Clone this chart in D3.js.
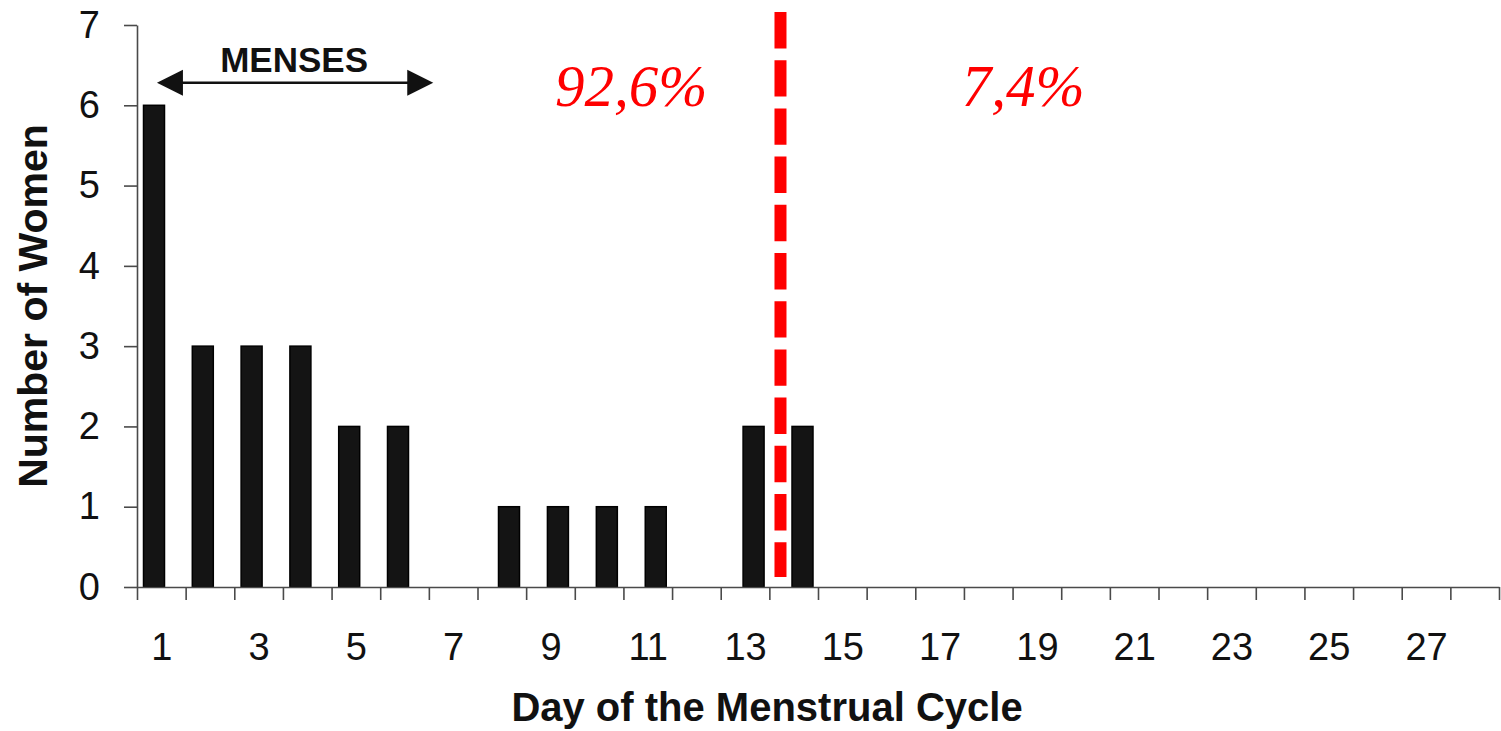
<!DOCTYPE html>
<html>
<head>
<meta charset="utf-8">
<script src="https://cdn.jsdelivr.net/npm/d3@7"></script>
<style>
  html, body { margin: 0; padding: 0; background: #fff; }
  svg { display: block; }
</style>
</head>
<body>
<svg id="chart" width="1501" height="731"></svg>
<script>
// ---- data ----
const days = d3.range(1, 29);                 // 1..28
const womenCount = [6, 3, 3, 3, 2, 2, 0, 1, 1, 1, 1, 0, 2, 2,
                    0, 0, 0, 0, 0, 0, 0, 0, 0, 0, 0, 0, 0, 0];
const xTickLabels = [1, 3, 5, 7, 9, 11, 13, 15, 17, 19, 21, 23, 25, 27];
const yTicks = [0, 1, 2, 3, 4, 5, 6, 7];
const shareLabels = ["92,6%", "7,4%"];
const mensesLabel = "MENSES";
const xTitle = "Day of the Menstrual Cycle";
const yTitle = "Number of Women";
const dividerDay = 13.55;

// ---- layout ----
(function () {
const svg = d3.select("#chart");
const plotL = 137, plotR = 1499, plotT = 25, plotB = 587;

const x = d3.scaleLinear().domain([0.5, 28.5]).range([plotL, plotR]);  // axis (day bands)
// bar centres as placed in the original figure (slightly off the tick grid)
const xBar = d3.scaleLinear().domain([1, 6, 8, 14]).range([154, 398, 509, 802.5]);
const y = d3.scaleLinear().domain([0, 7]).range([plotB, plotT]);
const barW = 21;

// bars
svg.append("g").selectAll("rect")
  .data(days.map((d, i) => ({day: d, v: womenCount[i]})).filter(d => d.v > 0))
  .join("rect")
  .attr("x", d => xBar(d.day) - barW / 2)
  .attr("y", d => y(d.v))
  .attr("width", barW)
  .attr("height", d => y(0) - y(d.v))
  .attr("fill", "#141414")
  .attr("stroke", "#000")
  .attr("stroke-width", 1.5);

// y axis
const yAxis = svg.append("g")
  .attr("transform", `translate(${plotL},0)`)
  .call(d3.axisLeft(y).tickValues(yTicks).tickFormat(d3.format("d"))
        .tickSize(13).tickSizeOuter(0).tickPadding(24));
yAxis.selectAll("text")
  .attr("font-family", "'Liberation Sans', Arial, sans-serif")
  .attr("font-size", 38).attr("fill", "#111");

// x axis: boundary ticks
const boundaries = d3.range(0.5, 29, 1);
svg.append("g")
  .attr("transform", `translate(0,${plotB})`)
  .call(d3.axisBottom(x).tickValues(boundaries).tickFormat("")
        .tickSize(13).tickSizeOuter(0));
// x axis labels (centred in day bands)
const xLab = svg.append("g")
  .attr("transform", `translate(0,${plotB})`)
  .call(d3.axisBottom(x).tickValues(xTickLabels).tickFormat(d3.format("d"))
        .tickSize(0).tickPadding(46));
xLab.select(".domain").remove();
xLab.selectAll("text")
  .attr("font-family", "'Liberation Sans', Arial, sans-serif")
  .attr("font-size", 38).attr("fill", "#111");

svg.selectAll(".domain, .tick line")
  .attr("stroke", "#4a4a4a").attr("stroke-width", 1.6);

// axis titles
svg.append("text")
  .attr("x", 767).attr("y", 721)
  .attr("text-anchor", "middle")
  .attr("font-family", "'Liberation Sans', Arial, sans-serif")
  .attr("font-weight", "bold").attr("font-size", 40).attr("fill", "#111")
  .text(xTitle);

svg.append("text")
  .attr("transform", `translate(47,${(y(0) + y(7)) / 2}) rotate(-90)`)
  .attr("text-anchor", "middle")
  .attr("font-family", "'Liberation Sans', Arial, sans-serif")
  .attr("font-weight", "bold").attr("font-size", 41).attr("fill", "#111")
  .text(yTitle);

// MENSES arrow
const arrowY = y(6.28);
const aL = x(0.91), aR = x(6.59);
svg.append("line")
  .attr("x1", aL + 10).attr("x2", aR - 10)
  .attr("y1", arrowY).attr("y2", arrowY)
  .attr("stroke", "#111").attr("stroke-width", 2.5);
svg.append("path")
  .attr("d", `M${aL},${arrowY} L${aL + 26},${arrowY - 13} L${aL + 26},${arrowY + 13} Z`)
  .attr("fill", "#111");
svg.append("path")
  .attr("d", `M${aR},${arrowY} L${aR - 26},${arrowY - 13} L${aR - 26},${arrowY + 13} Z`)
  .attr("fill", "#111");
svg.append("text")
  .attr("x", (aL + aR) / 2 - 1).attr("y", 72)
  .attr("text-anchor", "middle")
  .attr("font-family", "'Liberation Sans', Arial, sans-serif")
  .attr("font-weight", "bold").attr("font-size", 35).attr("fill", "#111")
  .text(mensesLabel);

// red dashed divider
svg.append("line")
  .attr("x1", xBar(dividerDay)).attr("x2", xBar(dividerDay))
  .attr("y1", 12).attr("y2", 577)
  .attr("stroke", "#ff0000").attr("stroke-width", 12)
  .attr("stroke-dasharray", "36.4,11.8");

// percentage annotations
const shareX = [x(10.66), x(18.72)];
svg.append("g").selectAll("text")
  .data(shareLabels)
  .join("text")
  .attr("x", (d, i) => shareX[i])
  .attr("y", 106)
  .attr("text-anchor", "middle")
  .attr("font-family", "'Liberation Serif', 'Times New Roman', serif")
  .attr("font-style", "italic")
  .attr("font-size", 59)
  .attr("fill", "#ff0000")
  .text(d => d);
})();
</script>
</body>
</html>
